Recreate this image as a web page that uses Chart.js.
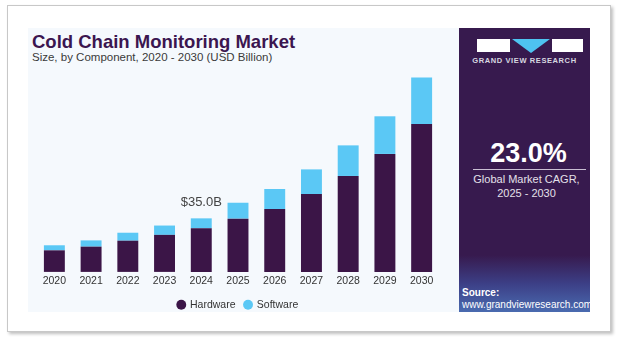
<!DOCTYPE html>
<html>
<head>
<meta charset="utf-8">
<script src="https://cdn.jsdelivr.net/npm/chart.js@4"></script>
<style>
  body { margin: 0; width: 617px; height: 340px; background: #fff; position: relative; overflow: hidden; font-family: "Liberation Sans", Arial, sans-serif; }
  #frame { position: absolute; left: 7px; top: 5px; width: 602px; height: 325px; border: 1px solid #c8c8c8; box-shadow: 2px 2px 3px rgba(0,0,0,0.25); background: #fff; }
  #panel { position: absolute; left: 28px; top: 28px; width: 431px; height: 284px; background: #f5f9fd; }
  #side { position: absolute; left: 459px; top: 28px; width: 131px; height: 284px;
    background: linear-gradient(to bottom, #371a4e 0%, #371a4e 80%, #3c3f86 90%, #4a6bb0 100%); color: #fff; }
  #title { position: absolute; left: 32px; top: 31px; font-size: 18.5px; font-weight: bold; color: #3b1650; white-space: nowrap; }
  #subtitle { position: absolute; left: 32px; top: 51px; font-size: 11.5px; color: #3a3a3a; white-space: nowrap; }
  #wrap { position: absolute; left: 28px; top: 62px; width: 431px; height: 258px; }
  .logo { position: absolute; background: #fff; }
  #tri { position: absolute; left: 512px; top: 39px; width: 0; height: 0; border-left: 19px solid transparent; border-right: 19px solid transparent; border-top: 14px solid #4ec3f0; }
  #brand { position: absolute; left: 459px; width: 131px; top: 56px; text-align: center; font-size: 7.5px; font-weight: bold; color: #d8d8e0; letter-spacing: 0.6px; }
  #cagr { position: absolute; left: 463px; width: 131px; top: 138px; text-align: center; font-size: 27px; font-weight: bold; color: #fff; }
  #rule { position: absolute; left: 473px; top: 169px; width: 113px; height: 1px; background: #c9bfd3; }
  #cagrtxt { position: absolute; left: 461px; width: 131px; top: 172px; text-align: center; font-size: 11px; line-height: 14px; color: #e4e0ea; }
  #src { position: absolute; left: 462px; top: 287px; font-size: 10px; line-height: 12px; color: #fff; }
</style>
</head>
<body>
<div id="frame"></div>
<div id="panel"></div>
<div id="side"></div>
<div class="logo" style="left:477px; top:39px; width:33px; height:13px;"></div>
<div id="tri"></div>
<div class="logo" style="left:552px; top:39px; width:31px; height:13px;"></div>
<div id="brand">GRAND VIEW RESEARCH</div>
<div id="cagr">23.0%</div>
<div id="rule"></div>
<div id="cagrtxt">Global Market CAGR,<br>2025 - 2030</div>
<div id="src"><b>Source:</b><br>www.grandviewresearch.com</div>
<div id="title">Cold Chain Monitoring Market</div>
<div id="subtitle">Size, by Component, 2020 - 2030 (USD Billion)</div>
<div id="wrap"><canvas id="marketChart" width="431" height="258"></canvas></div>
<script>
const years = ['2020', '2021', '2022', '2023', '2024', '2025', '2026', '2027', '2028', '2029', '2030'];
const hardware = [14.1, 16.5, 20.4, 24.2, 28.5, 34.8, 41.1, 50.9, 62.7, 77.1, 96.6];
const software = [3.3, 4.1, 5.2, 6.1, 6.5, 10.4, 13.1, 16.1, 20.0, 24.6, 30.4];
const calloutIndex = 4;
const calloutText = '$35.0B';

// draws the $35.0B label above the 2024 stack
const callout = {
  id: 'callout',
  afterDatasetsDraw(chart) {
    const bar = chart.getDatasetMeta(1).data[calloutIndex];
    const ctx = chart.ctx;
    ctx.save();
    ctx.font = '13px "Liberation Sans", Arial, sans-serif';
    ctx.fillStyle = '#444';
    ctx.textAlign = 'center';
    ctx.textBaseline = 'middle';
    ctx.fillText(calloutText, bar.x, bar.y - 16);
    ctx.restore();
  }
};

const font = { size: 10.5, family: '"Liberation Sans", Arial, sans-serif' };

const ctx = document.getElementById('marketChart').getContext('2d');
const marketChart = new Chart(ctx, {
  type: 'bar',
  data: {
    labels: years,
    datasets: [
      { label: 'Hardware', data: hardware, backgroundColor: '#3b1547' },
      { label: 'Software', data: software, backgroundColor: '#5bc8f5' }
    ]
  },
  options: {
    responsive: false,
    animation: false,
    layout: { padding: { left: 8, right: 19, top: 11, bottom: 0 } },
    datasets: { bar: { barPercentage: 0.57, categoryPercentage: 1 } },
    scales: {
      x: {
        stacked: true,
        grid: { display: false, drawTicks: false },
        border: { display: false },
        ticks: { color: '#333', font: font, padding: 3 }
      },
      y: { stacked: true, display: false, min: 0, max: 130 }
    },
    plugins: {
      legend: {
        position: 'bottom',
        labels: {
          usePointStyle: true,
          pointStyle: 'circle',
          boxWidth: 7,
          boxHeight: 7,
          padding: 9,
          color: '#333',
          font: font
        }
      },
      tooltip: { enabled: false }
    }
  },
  plugins: [callout]
});
</script>
</body>
</html>
